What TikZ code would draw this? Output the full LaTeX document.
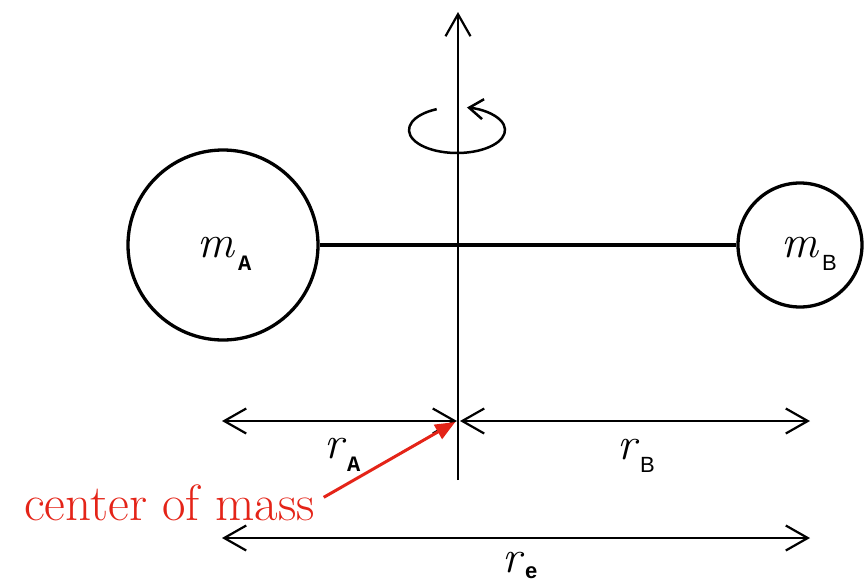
\documentclass[tikz,border=0pt]{standalone}
\usepackage{fontspec}
\usetikzlibrary{arrows.meta}
\newfontfamily\subtt{Liberation Mono}
\newfontfamily\subsf{Liberation Sans}
\definecolor{comred}{RGB}{228,36,24}
\newcommand{\varsub}[3][-13pt]{{\fontsize{46}{46}\selectfont\itshape #2}\kern4pt\raisebox{#1}{\fontsize{22}{22}\selectfont#3}}

\begin{document}
\begin{tikzpicture}[x=1pt, y=-1pt,
    >={Straight Barb[length=22pt, width=25pt]},
    mass/.style={draw, circle, line width=3.3pt, inner sep=0pt},
    dim/.style={<->, line width=2.2pt},
    lbl/.style={anchor=base west, inner sep=0pt}]
    \useasboundingbox (0,0) rectangle (867,584);
    % rotating dumbbell
    \node[mass, minimum size=190pt] (ballA) at (223, 245) {};
    \node[mass, minimum size=124pt] (ballB) at (800, 245) {};
    \draw[line width=4.5pt] (ballA.east) -- (ballB.west);

    \node[lbl] (labmA) at (197, 257) {\varsub{m}{\subtt\bfseries A}};
    \node[lbl] (labmB) at (781, 257) {\varsub{m}{\subsf B}};

    % rotation axis
    \coordinate (axisbot) at (458, 480);
    \coordinate (axistop) at (458, 12);
    \draw[->, line width=2.2pt] (axisbot) -- (axistop);
    \draw[line width=2.5pt, -{Straight Barb[length=14pt, width=20pt]}]
        (457, 130) ++(245:48 and 23) arc[start angle=245, end angle=-78, x radius=48, y radius=23];

    % distances
    \coordinate (leftA) at (222, 421);
    \coordinate (cm) at (457, 421);
    \coordinate (cmR) at (460, 421);
    \coordinate (rightB) at (810, 421);
    \coordinate (reL) at (222, 538);
    \coordinate (reR) at (810, 538);
    \draw[dim] (leftA) -- (cm);
    \draw[dim] (cmR) -- (rightB);
    \draw[dim] (reL) -- (reR);

    \node[lbl] (labrA) at (324, 458) {\varsub{r}{\subtt\bfseries A}};
    \node[lbl] (labrB) at (617, 459) {\varsub{r}{\subsf B}};
    \node[lbl] (labre) at (502, 572) {\varsub[-6pt]{r}{\subsf\bfseries e}};

    % centre of mass
    \node[lbl, text=comred, font=\fontsize{51}{55}\selectfont] (comlabel) at (24, 520) {center of mass};
    \draw[-{Triangle[length=20pt, width=16pt]}, comred, line width=3pt, shorten <=10pt, shorten >=2pt]
        (comlabel.east) -- (cm);
\end{tikzpicture}
\end{document}
